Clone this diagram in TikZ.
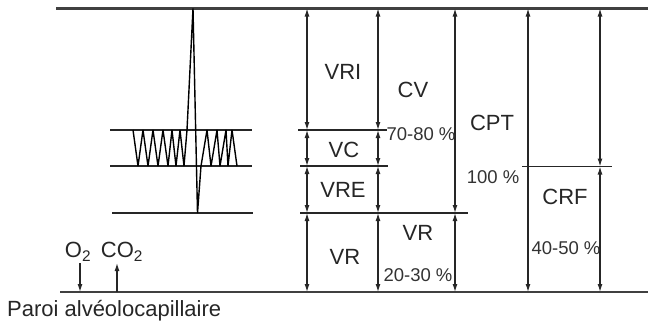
\documentclass[tikz,border=0pt]{standalone}
\usepackage{fontspec}
\setmainfont{Liberation Sans}
\usetikzlibrary{arrows.meta}

\begin{document}
\begin{tikzpicture}[x=1pt, y=-1pt,
  lbl/.style={text=black!85, inner sep=0pt, font=\fontsize{22}{26}\selectfont},
  pct/.style={text=black!80, inner sep=0pt, font=\fontsize{18.5}{22}\selectfont},
  dimline/.style={black!85, line width=1.2pt, {Latex[length=8pt,width=5pt]}-{Latex[length=8pt,width=5pt]}},
  gasarrow/.style={black!85, line width=1.2pt, -{Latex[length=8pt,width=5pt]}},
  level/.style={black!85, line width=2pt}]
\useasboundingbox (0,0) rectangle (648,324);

% --- Rectangle containers ---
\draw[black!75, line width=2.4pt] (56,8.5) -- (648,8.5);
\draw[black!75, line width=2.4pt] (60,292) -- (648,292);

% --- Spirogram ---
\draw[level] (110,130) -- (252,130);
\draw[level] (110,166) -- (252,166);
\draw[level] (112,213) -- (253,213);
\draw[black, line width=1.4pt, line join=bevel]
  (133,130) -- (138,166) -- (143,130) -- (148,166) -- (153,130) -- (158,166)
  -- (163,130) -- (168,166) -- (172,130) -- (176,166) -- (180,130) -- (184,166)
  -- (187,130) -- (193,8.5) -- (197.5,213) -- (201,166) -- (207,130) -- (211,166)
  -- (217,130) -- (220,166) -- (226,130) -- (228,166) -- (232,130) -- (237,166);

% --- Level lines ---
\draw[level] (298,130) -- (387,130);
\draw[level, line width=1.6pt] (300,166) -- (388,166);
\draw[level] (300,213) -- (468,213);
\draw[level, line width=1.6pt] (522,166.5) -- (612,166.5);

% --- Volume arrows ---
\foreach \x in {307,378}
  \foreach \ya/\yb in {8.5/130, 130/166, 166/213, 213/292}
    \draw[dimline] (\x,\ya) -- (\x,\yb);
\draw[dimline] (455,8.5) -- (455,213);
\draw[dimline] (455,213) -- (455,292);
\draw[dimline] (528,8.5) -- (528,292);
\draw[dimline] (600,8.5) -- (600,166.5);
\draw[dimline] (600,166.5) -- (600,292);

% --- Labels ---
\node[lbl] (vri) at (343,72) {VRI};
\node[lbl] (vc) at (344,150) {VC};
\node[lbl] (vre) at (343,190) {VRE};
\node[lbl] (vrl) at (345,257) {VR};
\node[lbl] (cv) at (413,90) {CV};
\node[pct] (cvp) at (421,134) {70-80 \%};
\node[lbl] (vrr) at (418,233) {VR};
\node[pct] (vrp) at (418,275) {20-30 \%};
\node[lbl] (cpt) at (492,123) {CPT};
\node[pct] (cptp) at (493,177) {100 \%};
\node[lbl] (crf) at (565,197) {CRF};
\node[pct] (crfp) at (566,248) {40-50 \%};

% --- Gas exchange ---
\node[lbl] (otwo) at (78,252) {O\textsubscript{2}};
\node[lbl] (cotwo) at (122,252) {CO\textsubscript{2}};
\coordinate (otop) at (80,263);
\coordinate (obot) at (80,292);
\coordinate (ctop) at (117,263);
\coordinate (cbot) at (117,292);
\draw[gasarrow] (otop) -- (obot);
\draw[gasarrow] (cbot) -- (ctop);
\node[lbl, anchor=west] (wall) at (7,311) {Paroi alvéolocapillaire};

\end{tikzpicture}
\end{document}
